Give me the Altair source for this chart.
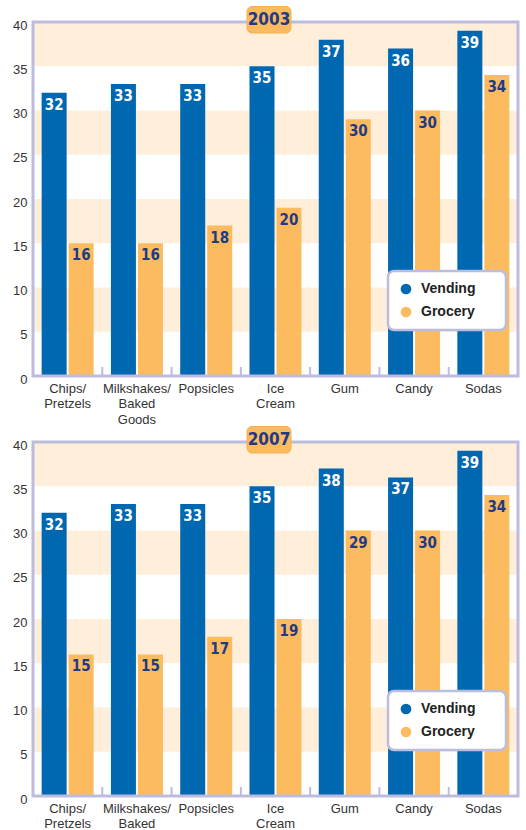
import altair as alt
import pandas as pd

# ---------------- data ----------------
categories = ["Chips/|Pretzels", "Milkshakes/|Baked|Goods", "Popsicles", "Ice|Cream", "Gum", "Candy", "Sodas"]
series = ["Vending", "Grocery"]

# bar heights as drawn in the picture
height_2003_vending = [32, 33, 33, 35, 38, 37, 39]
height_2003_grocery = [15, 15, 17, 19, 29, 30, 34]
height_2007_vending = [32, 33, 33, 35, 37, 36, 39]
height_2007_grocery = [16, 16, 18, 20, 30, 30, 34]

# value labels printed on the bars
label_2003_vending = [32, 33, 33, 35, 37, 36, 39]
label_2003_grocery = [16, 16, 18, 20, 30, 30, 34]
label_2007_vending = [32, 33, 33, 35, 38, 37, 39]
label_2007_grocery = [15, 15, 17, 19, 29, 30, 34]

band_starts = [5, 15, 25, 35]
band_size = 5
y_ticks = [0, 5, 10, 15, 20, 25, 30, 35, 40]

# ---------------- style ----------------
BLUE = "#0067B1"
ORANGE = "#FCBB5E"
BAND = "#FFEFDA"
PURPLE = "#BCBCDF"
NAVY = "#1F3A86"
FONT = "Liberation Sans, Arial, sans-serif"
NARROW = "Liberation Sans Narrow, DejaVu Sans Condensed, Liberation Sans, sans-serif"

W = 485
H = 354


def panel(year, hv, hg, lv, lg):
    df = pd.DataFrame({
        "cat": categories * 2,
        "series": ["Vending"] * len(categories) + ["Grocery"] * len(categories),
        "value": hv + hg,
        "label": [str(v) for v in lv + lg],
    })
    bands = pd.DataFrame({"y0": band_starts, "y1": [b + band_size for b in band_starts]})
    cats = pd.DataFrame({"cat": categories})
    one = pd.DataFrame({"year": [year]})

    y_scale = alt.Scale(domain=[0, 40], nice=False, zero=True)
    y_axis = alt.Axis(title=None, values=y_ticks, ticks=False, domain=False, grid=False,
                      labelFontSize=13, labelColor="#333333", labelPadding=6, labelOffset=3,
                      labelFont=FONT, minExtent=25, maxExtent=25)
    x_enc = alt.X("cat:N", sort=categories,
                  scale=alt.Scale(paddingInner=0, paddingOuter=0),
                  axis=alt.Axis(title=None, labelAngle=0, labelExpr="split(datum.label, '|')",
                                ticks=False, domain=False, labelFontSize=13, labelColor="#333333",
                                labelPadding=6, labelLineHeight=15.5, labelFont=FONT))
    xoff = alt.XOffset("series:N", sort=series,
                       scale=alt.Scale(paddingInner=0.074, paddingOuter=0.32))

    band_layer = alt.Chart(bands).mark_rect(color=BAND).encode(
        y=alt.Y("y0:Q", scale=y_scale, axis=y_axis),
        y2="y1:Q",
        x=alt.value(0), x2=alt.value(W),
    )

    legend = alt.Legend(title=None, orient="none", legendX=355, legendY=249,
                        fillColor="white", strokeColor=PURPLE,
                        cornerRadius=6, padding=11, symbolType="circle", symbolSize=115,
                        symbolStrokeWidth=0, labelFontSize=14, labelFontWeight="bold",
                        labelFont=FONT, labelColor="#222222", rowPadding=9, labelOffset=8,
                        labelExpr="datum.label + '" + "\u00a0" * 5 + "\u200b'")

    bars = alt.Chart(df).mark_bar().encode(
        x=x_enc,
        xOffset=xoff,
        y=alt.Y("value:Q", scale=y_scale, axis=y_axis),
        color=alt.Color("series:N", sort=series,
                        scale=alt.Scale(domain=series, range=[BLUE, ORANGE]),
                        legend=legend),
    )

    frame = alt.Chart(one).mark_rect(filled=False, stroke=PURPLE, strokeWidth=3).encode(
        x=alt.value(0), x2=alt.value(W), y=alt.value(0), y2=alt.value(H)
    )

    ticks = alt.Chart(cats).mark_rule(color=PURPLE, strokeWidth=2).encode(
        x=alt.X("cat:N", sort=categories, bandPosition=0),
        y=alt.value(H), y2=alt.value(H - 9),
    )

    labels = alt.Chart(df).mark_text(baseline="middle", dy=12, fontSize=15,
                                     fontWeight="bold", font=NARROW).encode(
        x=x_enc,
        xOffset=xoff,
        y=alt.Y("value:Q", scale=y_scale, axis=y_axis),
        text="label:N",
        color=alt.condition("datum.series == 'Vending'", alt.value("white"), alt.value(NAVY)),
    )

    title_box = alt.Chart(one).mark_rect(fill=ORANGE, stroke="#F7AE50", strokeWidth=1,
                                         cornerRadius=5).encode(
        x=alt.value(214), x2=alt.value(258), y=alt.value(-15.5), y2=alt.value(11)
    )
    title_text = alt.Chart(one).mark_text(fontSize=17, fontWeight="bold", font=NARROW,
                                          color=NAVY, baseline="middle").encode(
        x=alt.value(236), y=alt.value(-2), text="year:N"
    )

    return alt.layer(band_layer, bars, frame, ticks, labels, title_box, title_text).properties(
        width=W, height=H
    )


top = panel("2003", height_2003_vending, height_2003_grocery, label_2003_vending, label_2003_grocery)
bottom = panel("2007", height_2007_vending, height_2007_grocery, label_2007_vending, label_2007_grocery)

chart = alt.vconcat(top, bottom, spacing=0).resolve_legend(color="independent").properties(
    padding={"left": 8, "top": 6, "right": 0, "bottom": 0},
    background="white",
).configure_view(stroke=None).configure_legend(strokeWidth=2.5)

chart.save("out.html", embed_options={"renderer": "svg", "actions": False})
